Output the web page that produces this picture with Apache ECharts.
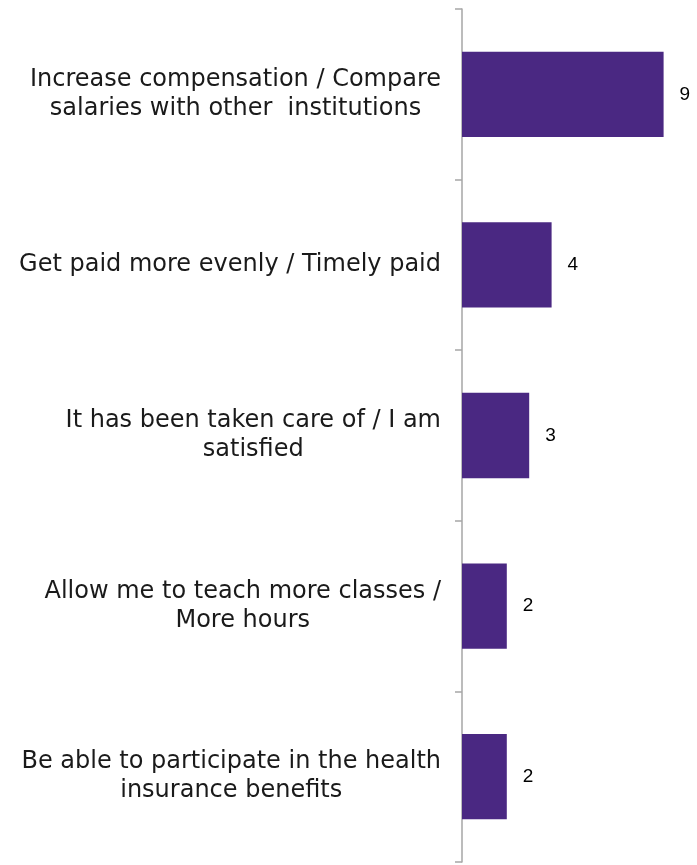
<!DOCTYPE html>
<html>
<head>
<meta charset="utf-8">
<script src="https://cdn.jsdelivr.net/npm/echarts@6/dist/echarts.min.js"></script>
<style>html,body{margin:0;padding:0;background:#fff}#c{width:697px;height:865px}</style>
</head>
<body>
<div id="c"></div>
<script>
const categories = [
  "Increase compensation / Compare\nsalaries with other  institutions",
  "Get paid more evenly / Timely paid",
  "It has been taken care of / I am\nsatisfied",
  "Allow me to teach more classes /\nMore hours",
  "Be able to participate in the health\ninsurance benefits"
];
const values = [9, 4, 3, 2, 2];

const chart = echarts.init(document.getElementById('c'));
chart.setOption({
  animation: false,
  grid: { left: 462, right: 11, top: 9, bottom: 3, containLabel: false },
  xAxis: { type: 'value', min: 0, max: 10, show: false },
  yAxis: {
    type: 'category', data: categories, inverse: true,
    axisLine: { show: true, lineStyle: { color: '#A6A6A6', width: 1.5 } },
    axisTick: { show: true, length: 7, lineStyle: { color: '#A6A6A6', width: 1.5 } },
    axisLabel: {
      margin: 21, align: 'right',
      formatter: v => v.split('\n').map(s => '{c|' + s + '}').join('\n'),
      rich: { c: { align: 'center', color: '#1a1a1a', fontFamily: 'DejaVu Sans', fontSize: 24, lineHeight: 29 } }
    }
  },
  series: [{
    type: 'bar', data: values, barWidth: '50%',
    itemStyle: { color: '#4A2882' },
    label: { show: true, position: 'right', distance: 16, color: '#000', fontFamily: 'Liberation Sans', fontSize: 19 }
  }]
});
</script>
</body>
</html>
